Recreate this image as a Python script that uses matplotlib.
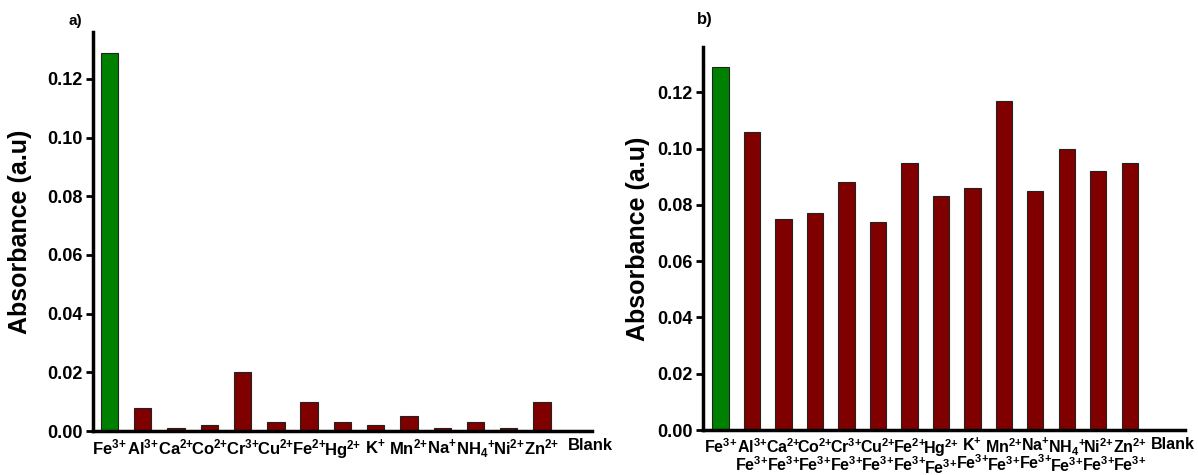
import matplotlib
matplotlib.use("Agg")
import matplotlib.pyplot as plt
import matplotlib.transforms as mtransforms
import numpy as np

plt.rcParams["font.family"] = ["Liberation Sans", "DejaVu Sans"]
plt.rcParams["font.weight"] = "bold"
plt.rcParams["mathtext.fontset"] = "custom"
plt.rcParams["mathtext.rm"] = "Liberation Sans:bold"
plt.rcParams["mathtext.bf"] = "Liberation Sans:bold"
plt.rcParams["mathtext.default"] = "bf"

# Data
ions = ["Fe$^{3{+}}$", "Al$^{3{+}}$", "Ca$^{2{+}}$", "Co$^{2{+}}$", "Cr$^{3{+}}$", "Cu$^{2{+}}$",
        "Fe$^{2{+}}$", "Hg$^{2{+}}$", "K$^{{+}}$", "Mn$^{2{+}}$", "Na$^{{+}}$", "NH$_4{}^{{+}}$",
        "Ni$^{2{+}}$", "Zn$^{2{+}}$", "Blank"]
abs_single = [0.129, 0.008, 0.001, 0.002, 0.020, 0.003, 0.010, 0.003, 0.002,
              0.005, 0.001, 0.003, 0.001, 0.010, 0.0]
abs_mixed = [0.129, 0.106, 0.075, 0.077, 0.088, 0.074, 0.095, 0.083, 0.086,
             0.117, 0.085, 0.100, 0.092, 0.095, 0.0]
yticks = [0.00, 0.02, 0.04, 0.06, 0.08, 0.10, 0.12]

GREEN = "#008000"
DRED = "#800000"

fig = plt.figure(figsize=(11.98, 4.75), dpi=100)
ax_a = fig.add_axes([0.0776, 0.0926, 0.4164, 0.840])
ax_b = fig.add_axes([0.587, 0.0947, 0.402, 0.806])

labels_b = [ions[0]] + [lab + "\nFe$^{3{+}}$" for lab in ions[1:-1]] + [ions[-1]]


def style_axes(ax, values, labels, xlim, xfs, blank_shift):
    x = np.arange(len(values))
    colors = [GREEN] + [DRED] * (len(values) - 1)
    ax.bar(x, values, width=0.52, color=colors, edgecolor="#222222", linewidth=0.8)
    ax.set_xlim(*xlim)
    ax.set_ylim(0, 0.136)
    ax.set_xticks(x)
    ax.set_xticklabels(labels, fontsize=xfs, fontweight="bold", linespacing=0.95)
    ax.set_yticks(yticks)
    ax.set_yticklabels([f"{v:.2f}" for v in yticks], fontsize=13, fontweight="bold")
    ax.tick_params(axis="x", length=0, pad=5)
    ax.tick_params(axis="y", direction="out", length=5, width=2, pad=2.5)
    for s in ["top", "right"]:
        ax.spines[s].set_visible(False)
    for s in ["left", "bottom"]:
        ax.spines[s].set_linewidth(2.5)
    ax.set_ylabel("Absorbance (a.u)", fontsize=18, fontweight="bold")
    # the "Blank" label sits a bit right of its tick in the original
    lab = ax.get_xticklabels()[-1]
    lab.set_transform(lab.get_transform() +
                      mtransforms.ScaledTranslation(blank_shift / 100, 0, fig.dpi_scale_trans))


style_axes(ax_a, abs_single, ions, (-0.5, 14.5), 12, 15)
style_axes(ax_b, abs_mixed, labels_b, (-0.55, 14.75), 11.5, 12)
ax_a.yaxis.set_label_coords(-0.122, 0.5)
ax_b.yaxis.set_label_coords(-0.11, 0.5)

fig.text(0.0575, 0.955, "a)", fontsize=11, fontweight="bold", ha="left", va="center")
fig.text(0.582, 0.958, "b)", fontsize=12, fontweight="bold", ha="left", va="center")

fig.savefig("out.png", dpi=100)
